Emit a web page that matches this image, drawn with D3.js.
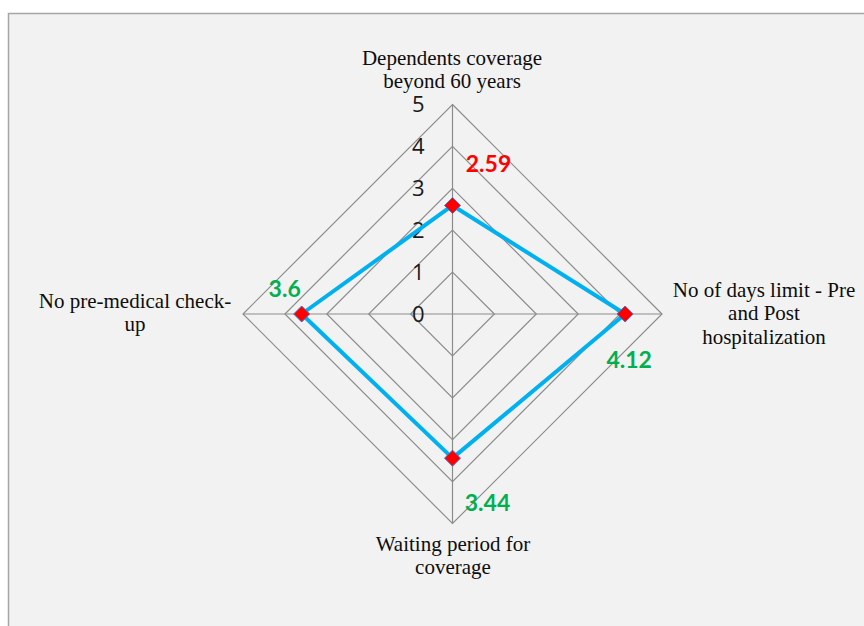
<!DOCTYPE html>
<html>
<head>
<meta charset="utf-8">
<script src="https://cdn.jsdelivr.net/npm/d3@7"></script>
<style>
  html, body { margin: 0; padding: 0; background: #ffffff; }
  svg { display: block; }
</style>
</head>
<body>
<script>
// Radar chart data
const categories = [
  ["Dependents coverage", "beyond 60 years"],
  ["No of days limit - Pre", "and Post", "hospitalization"],
  ["Waiting period for", "coverage"],
  ["No pre-medical check-", "up"]
];
const values = [2.59, 4.12, 3.44, 3.6];
const valueColors = ["#ff0000", "#00b050", "#00b050", "#00b050"];
const tickValues = [0, 1, 2, 3, 4, 5];

const W = 864, H = 626;
const cx = 452.5, cy = 314, R = 209.5;

const svg = d3.select("body").append("svg").attr("width", W).attr("height", H);

// chart area
svg.append("rect")
  .attr("x", 8.5).attr("y", 13.5).attr("width", W + 10).attr("height", H + 10)
  .attr("fill", "#f2f2f2").attr("stroke", "#a6a6a6").attr("stroke-width", 1.5);

const r = d3.scaleLinear().domain([0, 5]).range([0, R]);
const ang = i => i * 2 * Math.PI / categories.length;
const px = (i, v) => cx + r(v) * Math.sin(ang(i));
const py = (i, v) => cy - r(v) * Math.cos(ang(i));

const g = svg.append("g");

// grid rings
tickValues.filter(t => t > 0).forEach(t => {
  const pts = categories.map((c, i) => [px(i, t), py(i, t)]);
  g.append("polygon")
    .attr("points", pts.map(p => p.join(",")).join(" "))
    .attr("fill", "none").attr("stroke", "#8c8c8c").attr("stroke-width", 1.2);
});

// spokes
categories.forEach((c, i) => {
  g.append("line")
    .attr("x1", cx).attr("y1", cy)
    .attr("x2", px(i, 5)).attr("y2", py(i, 5))
    .attr("stroke", "#8c8c8c").attr("stroke-width", 1.2);
});

// tick labels
g.selectAll("text.tick").data(tickValues).join("text")
  .attr("class", "tick")
  .attr("x", cx - 28)
  .attr("y", d => cy - r(d))
  .attr("dy", "0.36em")
  .attr("text-anchor", "end")
  .attr("font-family", "'Open Sans', sans-serif")
  .attr("font-size", 22)
  .attr("fill", "#1a1a1a")
  .text(d => d);

// series line
const line = d3.line().x(d => d[0]).y(d => d[1]).curve(d3.curveLinearClosed);
const seriesPts = values.map((v, i) => [px(i, v), py(i, v)]);
g.append("path")
  .attr("d", line(seriesPts))
  .attr("fill", "none").attr("stroke", "#00b0f0").attr("stroke-width", 4)
  .attr("stroke-linejoin", "round");

// markers
g.selectAll("path.marker").data(seriesPts).join("path")
  .attr("class", "marker")
  .attr("transform", d => `translate(${d[0]},${d[1]})`)
  .attr("d", "M0,-8L8,0L0,8L-8,0Z")
  .attr("fill", "#ff0000").attr("stroke", "#4472c4").attr("stroke-width", 1);

// value labels
const labelOffsets = [[36, -42], [4, 46], [35, 45], [-17, -25]];
g.selectAll("text.val").data(values).join("text")
  .attr("class", "val")
  .attr("x", (d, i) => px(i, d) + labelOffsets[i][0])
  .attr("y", (d, i) => py(i, d) + labelOffsets[i][1])
  .attr("dy", "0.36em")
  .attr("text-anchor", "middle")
  .attr("font-family", "Lato, sans-serif")
  .attr("font-weight", "bold")
  .attr("font-size", 23)
  .attr("fill", (d, i) => valueColors[i])
  .text(d => d);

// category labels
const catPos = [
  { x: 452, y: 65 },
  { x: 764, y: 297 },
  { x: 453, y: 551 },
  { x: 135, y: 308 }
];
categories.forEach((lines, i) => {
  const t = g.append("text")
    .attr("font-family", "'Liberation Serif', 'Times New Roman', serif")
    .attr("font-size", 21)
    .attr("fill", "#0d0d0d")
    .attr("text-anchor", "middle");
  lines.forEach((s, j) => {
    t.append("tspan").attr("x", catPos[i].x).attr("y", catPos[i].y + j * 23.3).text(s);
  });
});
</script>
</body>
</html>
